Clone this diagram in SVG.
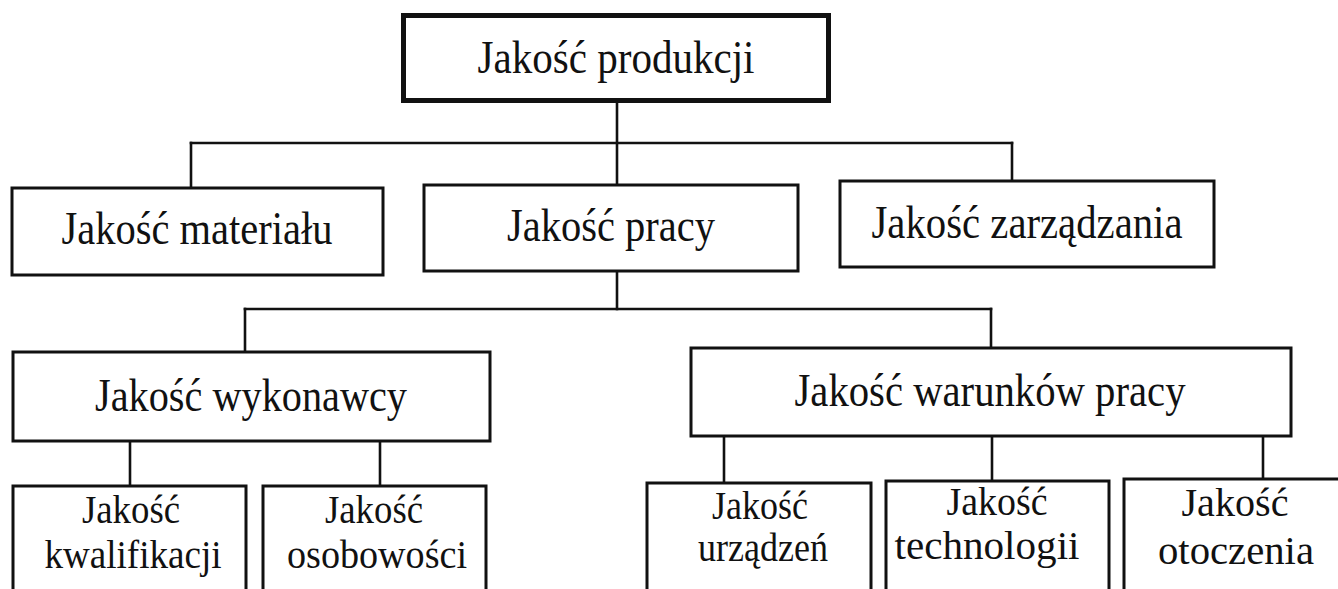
<svg xmlns="http://www.w3.org/2000/svg" width="1338" height="589" viewBox="0 0 1338 589">
  <style>
    .box { fill: #ffffff; stroke: #111111; stroke-width: 3; }
    .root { fill: #ffffff; stroke: #111111; stroke-width: 5; }
    .link { fill: none; stroke: #111111; stroke-width: 2.6; stroke-linecap: square; }
    text { font-family: "Liberation Serif", "Times New Roman", serif; fill: #111111; text-anchor: middle; }
    .lg { font-size: 46px; }
    .sm { font-size: 41px; }
  </style>
  <rect width="1338" height="589" fill="#ffffff"/>

  <!-- tree connectors -->
  <g id="connectors">
    <path class="link" d="M617 103 V185"/>
    <path class="link" d="M191 143 H1012"/>
    <path class="link" d="M191 143 V188"/>
    <path class="link" d="M1012 143 V181"/>
    <path class="link" d="M617 271 V309"/>
    <path class="link" d="M245 309 H991"/>
    <path class="link" d="M245 309 V352"/>
    <path class="link" d="M991 309 V348"/>
    <path class="link" d="M130 441 V486"/>
    <path class="link" d="M380 441 V486"/>
    <path class="link" d="M724 436 V483"/>
    <path class="link" d="M992 436 V481"/>
    <path class="link" d="M1263 436 V479"/>
  </g>

  <g id="jakosc-produkcji">
    <rect class="root" x="403.5" y="15.5" width="425" height="85"/>
    <text class="lg" x="616" y="73" textLength="277" lengthAdjust="spacingAndGlyphs">Jakość produkcji</text>
  </g>

  <g id="jakosc-materialu">
    <rect class="box" x="12" y="188" width="371" height="87"/>
    <text class="lg" x="197" y="244" textLength="271" lengthAdjust="spacingAndGlyphs">Jakość materiału</text>
  </g>

  <g id="jakosc-pracy">
    <rect class="box" x="424" y="185" width="374" height="86"/>
    <text class="lg" x="611" y="241" textLength="208" lengthAdjust="spacingAndGlyphs">Jakość pracy</text>
  </g>

  <g id="jakosc-zarzadzania">
    <rect class="box" x="840" y="181" width="374" height="86"/>
    <text class="lg" x="1027" y="238" textLength="311" lengthAdjust="spacingAndGlyphs">Jakość zarządzania</text>
  </g>

  <g id="jakosc-wykonawcy">
    <rect class="box" x="13" y="352" width="477" height="89"/>
    <text class="lg" x="251" y="411" textLength="312" lengthAdjust="spacingAndGlyphs">Jakość wykonawcy</text>
  </g>

  <g id="jakosc-warunkow-pracy">
    <rect class="box" x="691" y="348" width="600" height="88"/>
    <text class="lg" x="990" y="406" textLength="391" lengthAdjust="spacingAndGlyphs">Jakość warunków pracy</text>
  </g>

  <g id="jakosc-kwalifikacji">
    <rect class="box" x="13" y="486" width="233" height="120"/>
    <text class="sm" x="131" y="523" textLength="98" lengthAdjust="spacingAndGlyphs">Jakość</text>
    <text class="sm" x="133" y="568" textLength="177" lengthAdjust="spacingAndGlyphs">kwalifikacji</text>
  </g>

  <g id="jakosc-osobowosci">
    <rect class="box" x="263" y="486" width="223" height="120"/>
    <text class="sm" x="374" y="523" textLength="98" lengthAdjust="spacingAndGlyphs">Jakość</text>
    <text class="sm" x="377" y="568" textLength="180" lengthAdjust="spacingAndGlyphs">osobowości</text>
  </g>

  <g id="jakosc-urzadzen">
    <rect class="box" x="647" y="483" width="224" height="120"/>
    <text class="sm" x="760" y="519" textLength="96" lengthAdjust="spacingAndGlyphs">Jakość</text>
    <text class="sm" x="763" y="561" textLength="130" lengthAdjust="spacingAndGlyphs">urządzeń</text>
  </g>

  <g id="jakosc-technologii">
    <rect class="box" x="886" y="481" width="223" height="120"/>
    <text class="sm" x="997" y="515" textLength="101" lengthAdjust="spacingAndGlyphs">Jakość</text>
    <text class="sm" x="987" y="559" textLength="185" lengthAdjust="spacingAndGlyphs">technologii</text>
  </g>

  <g id="jakosc-otoczenia">
    <rect class="box" x="1124" y="479" width="224" height="120"/>
    <text class="sm" x="1235" y="516" textLength="107" lengthAdjust="spacingAndGlyphs">Jakość</text>
    <text class="sm" x="1236" y="564" textLength="156" lengthAdjust="spacingAndGlyphs">otoczenia</text>
  </g>
</svg>
